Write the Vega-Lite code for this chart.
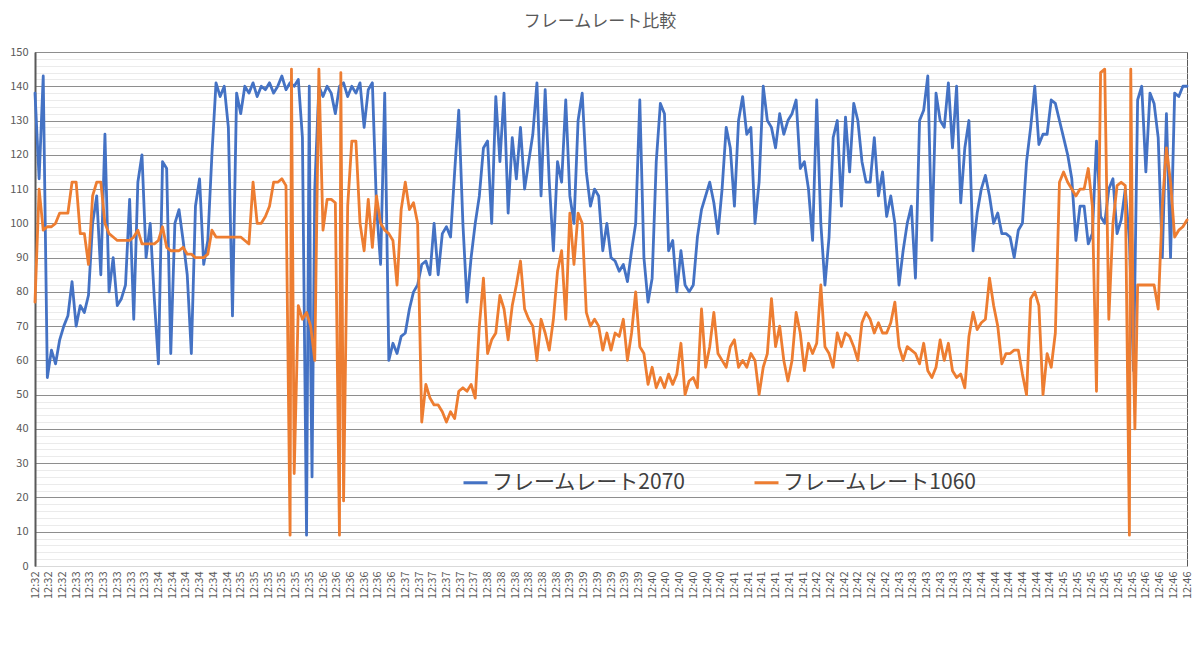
{
"$schema": "https://vega.github.io/schema/vega-lite/v6.json",
"width": 1152,
"height": 514,
"autosize": {"type": "none"},
"padding": {"left": 35, "top": 52, "right": 13, "bottom": 82},
"background": "white",
"config": {"font": "Noto Sans CJK JP", "view": {"stroke": "#595959", "strokeWidth": 1}, "axis": {"labelOverlap": false}, "axisX": {"labelOverlap": false}},
"title": {"text": "フレームレート比較", "fontSize": 17, "fontWeight": "normal", "color": "#595959", "offset": 15, "anchor": "middle", "dx": -11},
"data": {"values": [
{"s":0,"a":138,"b":77},{"s":3,"a":113,"b":110},{"s":6,"a":143,"b":98},{"s":9,"a":55,"b":99},{"s":12,"a":63,"b":99},{"s":15,"a":59,"b":100},{"s":18,"a":66,"b":103},{"s":21,"a":70,"b":103},{"s":24,"a":73,"b":103},{"s":27,"a":83,"b":112},
{"s":30,"a":70,"b":112},{"s":33,"a":76,"b":97},{"s":36,"a":74,"b":97},{"s":39,"a":79,"b":88},{"s":42,"a":100,"b":108},{"s":45,"a":108,"b":112},{"s":48,"a":85,"b":112},{"s":51,"a":126,"b":100},{"s":54,"a":80,"b":97},{"s":57,"a":90,"b":96},
{"s":60,"a":76,"b":95},{"s":63,"a":78,"b":95},{"s":66,"a":82,"b":95},{"s":69,"a":107,"b":95},{"s":72,"a":72,"b":96},{"s":75,"a":112,"b":98},{"s":78,"a":120,"b":94},{"s":81,"a":90,"b":94},{"s":84,"a":100,"b":94},{"s":87,"a":78,"b":94},
{"s":90,"a":59,"b":95},{"s":93,"a":118,"b":99},{"s":96,"a":116,"b":93},{"s":99,"a":62,"b":92},{"s":102,"a":100,"b":92},{"s":105,"a":104,"b":92},{"s":108,"a":95,"b":93},{"s":111,"a":85,"b":91},{"s":114,"a":62,"b":91},{"s":117,"a":105,"b":90},
{"s":120,"a":113,"b":90},{"s":123,"a":88,"b":90},{"s":126,"a":95,"b":91},{"s":129,"a":120,"b":98},{"s":132,"a":141,"b":96},{"s":135,"a":137,"b":96},{"s":138,"a":140,"b":96},{"s":141,"a":128,"b":96},{"s":144,"a":73,"b":96},{"s":147,"a":138,"b":96},
{"s":150,"a":132,"b":96},{"s":153,"a":140,"b":95},{"s":156,"a":138,"b":94},{"s":159,"a":141,"b":112},{"s":162,"a":137,"b":100},{"s":165,"a":140,"b":100},{"s":168,"a":139,"b":102},{"s":171,"a":141,"b":105},{"s":174,"a":138,"b":112},{"s":177,"a":140,"b":112},
{"s":180,"a":143,"b":113},{"s":183,"a":139,"b":111},{"s":186,"a":141,"b":9},{"s":187,"b":145},{"s":189,"a":140,"b":27},{"s":192,"a":142,"b":76},{"s":195,"a":125,"b":72},{"s":198,"a":9,"b":74},{"s":200,"a":140},{"s":201,"a":60,"b":70},{"s":202,"a":26},{"s":204,"a":110,"b":60},{"s":207,"a":140,"b":145},
{"s":210,"a":137,"b":98},{"s":213,"a":140,"b":107},{"s":216,"a":138,"b":107},{"s":219,"a":132,"b":106},{"s":222,"a":140,"b":9},{"s":223,"b":144},{"s":225,"a":141,"b":19},{"s":228,"a":137,"b":105},{"s":231,"a":140,"b":124},{"s":234,"a":138,"b":124},{"s":237,"a":141,"b":100},
{"s":240,"a":128,"b":92},{"s":243,"a":139,"b":107},{"s":246,"a":141,"b":93},{"s":249,"a":105,"b":108},{"s":252,"a":88,"b":100},{"s":255,"a":138,"b":98},{"s":258,"a":60,"b":97},{"s":261,"a":65,"b":95},{"s":264,"a":62,"b":82},{"s":267,"a":67,"b":104},
{"s":270,"a":68,"b":112},{"s":273,"a":75,"b":104},{"s":276,"a":80,"b":106},{"s":279,"a":82,"b":100},{"s":282,"a":88,"b":42},{"s":285,"a":89,"b":53},{"s":288,"a":85,"b":49},{"s":291,"a":100,"b":47},{"s":294,"a":85,"b":47},{"s":297,"a":97,"b":45},
{"s":300,"a":99,"b":42},{"s":303,"a":96,"b":45},{"s":306,"a":115,"b":43},{"s":309,"a":133,"b":51},{"s":312,"a":100,"b":52},{"s":315,"a":77,"b":51},{"s":318,"a":90,"b":53},{"s":321,"a":100,"b":49},{"s":324,"a":108,"b":70},{"s":327,"a":122,"b":84},
{"s":330,"a":124,"b":62},{"s":333,"a":100,"b":66},{"s":336,"a":137,"b":68},{"s":339,"a":118,"b":79},{"s":342,"a":138,"b":75},{"s":345,"a":103,"b":66},{"s":348,"a":125,"b":76},{"s":351,"a":113,"b":82},{"s":354,"a":128,"b":89},{"s":357,"a":110,"b":75},
{"s":360,"a":118,"b":72},{"s":363,"a":126,"b":70},{"s":366,"a":141,"b":60},{"s":369,"a":108,"b":72},{"s":372,"a":139,"b":68},{"s":375,"a":112,"b":63},{"s":378,"a":92,"b":72},{"s":381,"a":118,"b":86},{"s":384,"a":112,"b":92},{"s":387,"a":136,"b":72},
{"s":390,"a":108,"b":103},{"s":393,"a":100,"b":88},{"s":396,"a":130,"b":103},{"s":399,"a":138,"b":100},{"s":402,"a":115,"b":74},{"s":405,"a":105,"b":70},{"s":408,"a":110,"b":72},{"s":411,"a":108,"b":70},{"s":414,"a":92,"b":63},{"s":417,"a":100,"b":68},
{"s":420,"a":90,"b":63},{"s":423,"a":89,"b":68},{"s":426,"a":86,"b":67},{"s":429,"a":88,"b":72},{"s":432,"a":83,"b":60},{"s":435,"a":92,"b":68},{"s":438,"a":100,"b":80},{"s":441,"a":136,"b":64},{"s":444,"a":90,"b":62},{"s":447,"a":77,"b":53},
{"s":450,"a":84,"b":58},{"s":453,"a":118,"b":52},{"s":456,"a":135,"b":55},{"s":459,"a":132,"b":52},{"s":462,"a":92,"b":56},{"s":465,"a":95,"b":53},{"s":468,"a":80,"b":56},{"s":471,"a":92,"b":65},{"s":474,"a":82,"b":50},{"s":477,"a":80,"b":54},
{"s":480,"a":82,"b":55},{"s":483,"a":96,"b":52},{"s":486,"a":104,"b":75},{"s":489,"a":108,"b":58},{"s":492,"a":112,"b":64},{"s":495,"a":106,"b":74},{"s":498,"a":97,"b":62},{"s":501,"a":110,"b":60},{"s":504,"a":128,"b":58},{"s":507,"a":122,"b":64},
{"s":510,"a":105,"b":66},{"s":513,"a":130,"b":58},{"s":516,"a":137,"b":60},{"s":519,"a":126,"b":58},{"s":522,"a":128,"b":62},{"s":525,"a":100,"b":60},{"s":528,"a":112,"b":50},{"s":531,"a":140,"b":58},{"s":534,"a":130,"b":62},{"s":537,"a":128,"b":78},
{"s":540,"a":122,"b":64},{"s":543,"a":132,"b":70},{"s":546,"a":126,"b":60},{"s":549,"a":130,"b":54},{"s":552,"a":132,"b":60},{"s":555,"a":136,"b":74},{"s":558,"a":116,"b":68},{"s":561,"a":118,"b":57},{"s":564,"a":110,"b":65},{"s":567,"a":95,"b":62},
{"s":570,"a":136,"b":65},{"s":573,"a":100,"b":82},{"s":576,"a":82,"b":64},{"s":579,"a":96,"b":62},{"s":582,"a":125,"b":58},{"s":585,"a":130,"b":68},{"s":588,"a":105,"b":64},{"s":591,"a":131,"b":68},{"s":594,"a":115,"b":67},{"s":597,"a":135,"b":64},
{"s":600,"a":130,"b":60},{"s":603,"a":118,"b":71},{"s":606,"a":112,"b":74},{"s":609,"a":112,"b":72},{"s":612,"a":125,"b":68},{"s":615,"a":108,"b":71},{"s":618,"a":115,"b":68},{"s":621,"a":102,"b":68},{"s":624,"a":108,"b":71},{"s":627,"a":100,"b":77},
{"s":630,"a":82,"b":64},{"s":633,"a":92,"b":60},{"s":636,"a":100,"b":64},{"s":639,"a":105,"b":63},{"s":642,"a":84,"b":62},{"s":645,"a":130,"b":59},{"s":648,"a":133,"b":65},{"s":651,"a":143,"b":57},{"s":654,"a":95,"b":55},{"s":657,"a":138,"b":58},
{"s":660,"a":130,"b":66},{"s":663,"a":128,"b":60},{"s":666,"a":141,"b":65},{"s":669,"a":122,"b":57},{"s":672,"a":140,"b":55},{"s":675,"a":106,"b":56},{"s":678,"a":122,"b":52},{"s":681,"a":130,"b":67},{"s":684,"a":92,"b":74},{"s":687,"a":103,"b":69},
{"s":690,"a":110,"b":71},{"s":693,"a":114,"b":72},{"s":696,"a":108,"b":84},{"s":699,"a":100,"b":76},{"s":702,"a":103,"b":70},{"s":705,"a":97,"b":59},{"s":708,"a":97,"b":62},{"s":711,"a":96,"b":62},{"s":714,"a":90,"b":63},{"s":717,"a":98,"b":63},
{"s":720,"a":100,"b":56},{"s":723,"a":118,"b":50},{"s":726,"a":128,"b":78},{"s":729,"a":140,"b":80},{"s":732,"a":123,"b":76},{"s":735,"a":126,"b":50},{"s":738,"a":126,"b":62},{"s":741,"a":136,"b":58},{"s":744,"a":135,"b":68},{"s":747,"a":130,"b":112},
{"s":750,"a":125,"b":115},{"s":753,"a":120,"b":112},{"s":756,"a":113,"b":110},{"s":759,"a":95,"b":108},{"s":762,"a":105,"b":110},{"s":765,"a":105,"b":110},{"s":768,"a":94,"b":116},{"s":771,"a":97,"b":105},{"s":774,"a":124,"b":51},{"s":777,"a":102,"b":144},
{"s":780,"a":100,"b":145},{"s":783,"a":110,"b":72},{"s":786,"a":113,"b":100},{"s":789,"a":97,"b":111},{"s":792,"a":101,"b":112},{"s":795,"a":110,"b":111},{"s":798,"a":95,"b":9},{"s":799,"b":145},{"s":801,"a":57,"b":60},{"s":802,"b":40},{"s":804,"a":136,"b":82},{"s":807,"a":140,"b":82},
{"s":810,"a":115,"b":82},{"s":813,"a":138,"b":82},{"s":816,"a":135,"b":82},{"s":819,"a":125,"b":75},{"s":822,"a":90,"b":105},{"s":825,"a":132,"b":122},{"s":828,"a":90,"b":112},{"s":831,"a":138,"b":96},{"s":834,"a":137,"b":98},{"s":837,"a":140,"b":99},
{"s":840,"a":140,"b":101}
]},
"resolve": {"axis": {"y": "independent"}},
"layer": [
{
"transform": [{"filter": {"field": "a", "valid": true}}],
"mark": {"type": "line", "strokeWidth": 2.8, "strokeJoin": "round", "strokeCap": "round"},
"encoding": {
"x": {"field": "s", "type": "quantitative", "scale": {"domain": [0, 840], "nice": false, "zero": false}, "axis": {"title": null, "values": [0,10,20,30,40,50,60,70,80,90,100,110,120,130,140,150,160,170,180,190,200,210,220,230,240,250,260,270,280,290,300,310,320,330,340,350,360,370,380,390,400,410,420,430,440,450,460,470,480,490,500,510,520,530,540,550,560,570,580,590,600,610,620,630,640,650,660,670,680,690,700,710,720,730,740,750,760,770,780,790,800,810,820,830,840], "labelExpr": "'12:' + (32 + floor((datum.value + 30) / 60))", "labelAngle": 270, "labelOverlap": false, "labelFlush": false, "labelBound": false, "grid": false, "ticks": false, "domainColor": "#d9d9d9", "domainWidth": 1, "labelFontSize": 11, "labelColor": "#595959", "labelPadding": 5}},
"y": {"field": "a", "type": "quantitative", "scale": {"domain": [0, 150], "nice": false}, "axis": {"title": null, "values": [0,10,20,30,40,50,60,70,80,90,100,110,120,130,140,150], "labelOverlap": false, "labelFlush": false, "ticks": false, "grid": true, "gridColor": "#8e8e8e", "gridWidth": 1, "domainColor": "#595959", "domainWidth": 2, "labelFontSize": 11, "labelColor": "#595959", "labelPadding": 7}},
"color": {"datum": "フレームレート2070", "type": "nominal", "scale": {"domain": ["フレームレート2070", "フレームレート1060"], "range": ["#4472C4", "#ED7D31"]}, "legend": {"orient": "none", "legendX": 427, "legendY": 417, "direction": "horizontal", "title": null, "symbolType": "stroke", "symbolSize": 576, "symbolStrokeWidth": 3, "labelFontSize": 21, "labelLimit": 400, "labelColor": "#404040", "columnPadding": 62, "labelOffset": 3}}
}
},
{
"transform": [{"filter": {"field": "b", "valid": true}}],
"mark": {"type": "line", "strokeWidth": 2.8, "strokeJoin": "round", "strokeCap": "round"},
"encoding": {
"x": {"field": "s", "type": "quantitative", "axis": {"title": null, "values": [0,10,20,30,40,50,60,70,80,90,100,110,120,130,140,150,160,170,180,190,200,210,220,230,240,250,260,270,280,290,300,310,320,330,340,350,360,370,380,390,400,410,420,430,440,450,460,470,480,490,500,510,520,530,540,550,560,570,580,590,600,610,620,630,640,650,660,670,680,690,700,710,720,730,740,750,760,770,780,790,800,810,820,830,840], "labelExpr": "'12:' + (32 + floor((datum.value + 30) / 60))", "labelAngle": 270, "labelOverlap": false, "labelFlush": false, "labelBound": false, "grid": false, "ticks": false, "domainColor": "#d9d9d9", "domainWidth": 1, "labelFontSize": 11, "labelColor": "#595959", "labelPadding": 5}},
"y": {"field": "b", "type": "quantitative", "axis": {"title": null, "orient": "right", "values": [2,4,6,8,12,14,16,18,22,24,26,28,32,34,36,38,42,44,46,48,52,54,56,58,62,64,66,68,72,74,76,78,82,84,86,88,92,94,96,98,102,104,106,108,112,114,116,118,122,124,126,128,132,134,136,138,142,144,146,148], "labels": false, "ticks": false, "domain": false, "grid": true, "gridColor": "#ebebeb", "gridWidth": 1}},
"color": {"datum": "フレームレート1060", "type": "nominal"}
}
}
]
}
